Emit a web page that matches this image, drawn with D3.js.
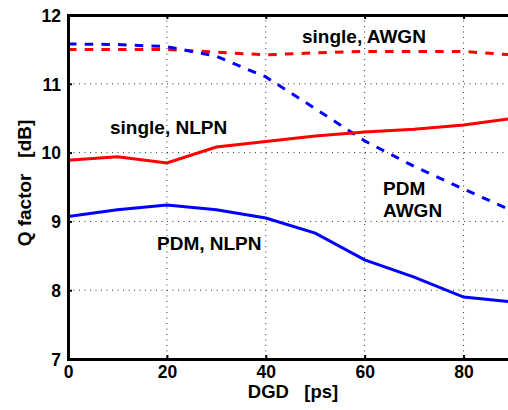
<!DOCTYPE html>
<html>
<head>
<meta charset="utf-8">
<script src="https://cdn.jsdelivr.net/npm/d3@7"></script>
<style>
  body { margin: 0; background: #fff; }
  text { font-family: "Liberation Sans", Arial, sans-serif; font-weight: bold; }
</style>
</head>
<body>
<svg width="508" height="410"></svg>
<script>
// DGD in ps, Q factor in dB
const dgd = [0, 10, 20, 30, 40, 50, 60, 70, 80, 90];
const pdmAwgn = [11.58, 11.57, 11.54, 11.4, 11.1, 10.64, 10.17, 9.8, 9.47, 9.15];
const singleAwgn = [11.5, 11.5, 11.5, 11.46, 11.42, 11.45, 11.47, 11.47, 11.47, 11.42];
const singleNlpn = [9.89, 9.94, 9.85, 10.08, 10.16, 10.24, 10.3, 10.34, 10.4, 10.5];
const pdmNlpn = [9.07, 9.17, 9.24, 9.17, 9.05, 8.83, 8.44, 8.19, 7.9, 7.83];

const xTicks = [0, 20, 40, 60, 80];
const yTicks = [7, 8, 9, 10, 11, 12];

const series = [
  { values: singleAwgn, color: '#ff0000', dashed: true },
  { values: pdmAwgn, color: '#0000ff', dashed: true },
  { values: singleNlpn, color: '#ff0000', dashed: false },
  { values: pdmNlpn, color: '#0000ff', dashed: false }
];

const labels = [
  { lines: ['single, AWGN'], x: 302, y: 43 },
  { lines: ['single, NLPN'], x: 110, y: 134 },
  { lines: ['PDM', 'AWGN'], x: 383, y: 195 },
  { lines: ['PDM, NLPN'], x: 157, y: 250 }
];

const svg = d3.select('svg');
const pLeft = 68, pRight = 513, pTop = 15, pBottom = 359;

const x = d3.scaleLinear().domain([0, 90]).range([pLeft, pRight]);
const y = d3.scaleLinear().domain([7, 12]).range([pBottom, pTop]);

svg.append('defs').append('clipPath').attr('id', 'plot')
  .append('rect').attr('x', pLeft).attr('y', pTop)
  .attr('width', pRight - pLeft).attr('height', pBottom - pTop);

// grid
const grid = svg.append('g');
grid.selectAll('.gx').data(xTicks.slice(1)).join('line')
  .attr('class', 'gx')
  .attr('x1', d => x(d)).attr('x2', d => x(d))
  .attr('y1', pTop).attr('y2', pBottom)
  .attr('stroke', '#333').attr('stroke-width', 1)
  .attr('stroke-dasharray', '1,4.5');
grid.selectAll('.gy').data(yTicks.slice(1, -1)).join('line')
  .attr('class', 'gy')
  .attr('x1', pLeft).attr('x2', pRight)
  .attr('y1', d => y(d)).attr('y2', d => y(d))
  .attr('stroke', '#333').attr('stroke-width', 1)
  .attr('stroke-dasharray', '1,4.5');

// curves
const line = d3.line().x((d, i) => x(dgd[i])).y(d => y(d));
svg.append('g').attr('clip-path', 'url(#plot)')
  .selectAll('path').data(series).join('path')
  .attr('d', d => line(d.values))
  .attr('fill', 'none')
  .attr('stroke', d => d.color)
  .attr('stroke-width', 3)
  .attr('stroke-dasharray', d => d.dashed ? '8.5,8.2' : null);

// axes
const xAxis = svg.append('g').attr('transform', `translate(0,${pBottom})`)
  .call(d3.axisBottom(x).tickValues(xTicks).tickSize(-4).tickPadding(7).tickFormat(d3.format('d')));
const yAxis = svg.append('g').attr('transform', `translate(${pLeft},0)`)
  .call(d3.axisLeft(y).tickValues(yTicks).tickSize(-4).tickPadding(7).tickFormat(d3.format('d')));
const xTop = svg.append('g').attr('transform', `translate(0,${pTop})`)
  .call(d3.axisTop(x).tickValues(xTicks).tickSize(-4).tickFormat(''));

[xAxis, yAxis, xTop].forEach(a => {
  a.select('.domain').attr('stroke', '#000').attr('stroke-width', 3);
  a.selectAll('.tick line').attr('stroke', '#000').attr('stroke-width', 2);
  a.selectAll('.tick text').attr('fill', '#000').style('font-size', '17.5px');
});
xAxis.selectAll('.tick text').attr('dy', '0.71em');
yAxis.selectAll('.tick text').attr('dy', '0.36em');

// axis titles
svg.append('text')
  .attr('x', 293).attr('y', 398)
  .attr('text-anchor', 'middle')
  .style('font-size', '18.5px')
  .attr('xml:space', 'preserve')
  .text('DGD   [ps]');
svg.append('text')
  .attr('transform', `translate(31,183) rotate(-90)`)
  .attr('text-anchor', 'middle')
  .style('font-size', '19px')
  .attr('xml:space', 'preserve')
  .text('Q factor   [dB]');

// curve labels
const lab = svg.append('g').selectAll('text').data(labels).join('text')
  .attr('x', d => d.x).attr('y', d => d.y)
  .style('font-size', '19px');
lab.selectAll('tspan').data(d => d.lines.map((t, i) => ({ t, i, x: d.x }))).join('tspan')
  .attr('x', d => d.x).attr('dy', d => d.i ? 22 : 0)
  .text(d => d.t);
</script>
</body>
</html>
